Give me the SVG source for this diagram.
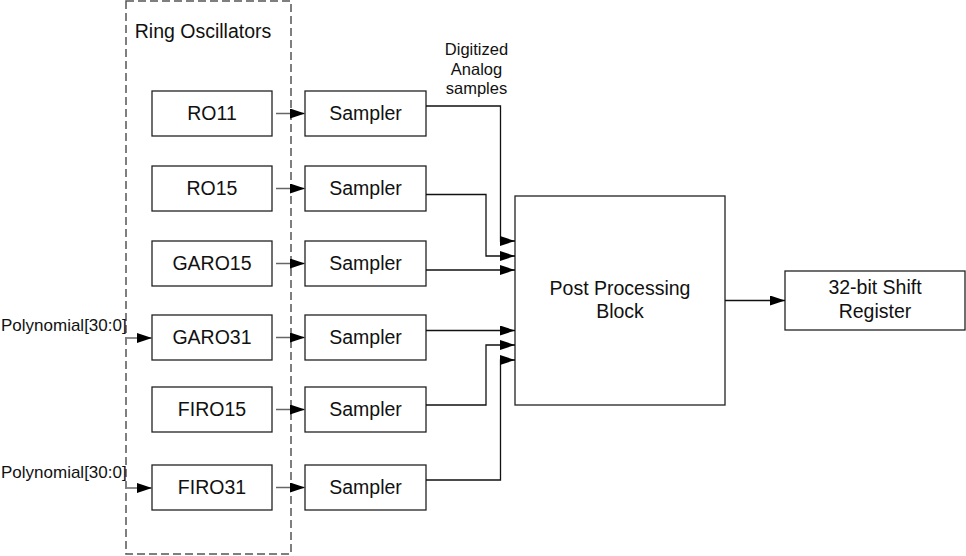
<svg xmlns="http://www.w3.org/2000/svg" width="966" height="556" viewBox="0 0 966 556">
<style>
.box{fill:#fff;stroke:#222;stroke-width:1.3}
.t{font-family:"Liberation Sans",Arial,sans-serif;font-size:19.5px;fill:#111;text-anchor:middle}
.s{font-family:"Liberation Sans",Arial,sans-serif;font-size:16.5px;fill:#111}
.c{fill:none;stroke:#111;stroke-width:1.3}
.g{fill:none;stroke:#666;stroke-width:1.5}
</style>
<defs>
<marker id="ah" markerUnits="userSpaceOnUse" markerWidth="16" markerHeight="10" refX="15" refY="5" orient="auto">
<path d="M0,0 L15,5 L0,10 Z" fill="#000"/>
</marker>
</defs>
<g id="ring-oscillators">
<rect x="126" y="1" width="165" height="553" fill="none" stroke="#555" stroke-width="1.5" stroke-dasharray="8,4"/>
<text class="t" x="203" y="38">Ring Oscillators</text>
</g>
<g id="ro11"><rect class="box" x="152" y="91" width="120" height="45"/><text class="t" x="212" y="120">RO11</text></g>
<g id="ro15"><rect class="box" x="152" y="166" width="120" height="45"/><text class="t" x="212" y="195">RO15</text></g>
<g id="garo15"><rect class="box" x="152" y="241" width="120" height="45"/><text class="t" x="212" y="270">GARO15</text></g>
<g id="garo31"><rect class="box" x="152" y="315" width="120" height="45"/><text class="t" x="212" y="344">GARO31</text></g>
<g id="firo15"><rect class="box" x="152" y="387" width="120" height="45"/><text class="t" x="212" y="416">FIRO15</text></g>
<g id="firo31"><rect class="box" x="152" y="465" width="120" height="45"/><text class="t" x="212" y="494">FIRO31</text></g>
<g id="sampler1"><rect class="box" x="305" y="91" width="121" height="45"/><text class="t" x="365.5" y="120">Sampler</text></g>
<g id="sampler2"><rect class="box" x="305" y="166" width="121" height="45"/><text class="t" x="365.5" y="195">Sampler</text></g>
<g id="sampler3"><rect class="box" x="305" y="241" width="121" height="45"/><text class="t" x="365.5" y="270">Sampler</text></g>
<g id="sampler4"><rect class="box" x="305" y="315" width="121" height="45"/><text class="t" x="365.5" y="344">Sampler</text></g>
<g id="sampler5"><rect class="box" x="305" y="387" width="121" height="45"/><text class="t" x="365.5" y="416">Sampler</text></g>
<g id="sampler6"><rect class="box" x="305" y="465" width="121" height="45"/><text class="t" x="365.5" y="494">Sampler</text></g>
<g id="post-processing"><rect class="box" x="515" y="196" width="210" height="209"/><text class="t" x="620" y="295">Post Processing</text><text class="t" x="620" y="318">Block</text></g>
<g id="shift-register"><rect class="box" x="785" y="271" width="180" height="59"/><text class="t" x="875" y="294">32-bit Shift</text><text class="t" x="875" y="318">Register</text></g>
<g id="labels">
<text class="s" x="476.5" y="55" text-anchor="middle">Digitized</text>
<text class="s" x="476.5" y="75" text-anchor="middle">Analog</text>
<text class="s" x="476.5" y="94" text-anchor="middle">samples</text>
<text class="s" x="1" y="331" style="font-size:17px">Polynomial[30:0]</text>
<text class="s" x="1" y="478" style="font-size:17px">Polynomial[30:0]</text>
</g>
<g id="connectors">
<path class="g" d="M276,113.5 H305" marker-end="url(#ah)"/>
<path class="g" d="M276,188.5 H305" marker-end="url(#ah)"/>
<path class="g" d="M276,263.5 H305" marker-end="url(#ah)"/>
<path class="g" d="M276,337.5 H305" marker-end="url(#ah)"/>
<path class="g" d="M276,409.5 H305" marker-end="url(#ah)"/>
<path class="g" d="M276,487.5 H305" marker-end="url(#ah)"/>
<path class="g" d="M127,338 H152" marker-end="url(#ah)"/>
<path class="g" d="M127,488 H152" marker-end="url(#ah)"/>
<path class="c" d="M426,106 H500.5 V241 H515" marker-end="url(#ah)"/>
<path class="c" d="M426,194.5 H486 V256 H515" marker-end="url(#ah)"/>
<path class="c" d="M426,270 H515" marker-end="url(#ah)"/>
<path class="c" d="M426,330.5 H515" marker-end="url(#ah)"/>
<path class="c" d="M426,405 H486 V345 H515" marker-end="url(#ah)"/>
<path class="c" d="M426,480 H500.5 V360 H515" marker-end="url(#ah)"/>
<path class="c" d="M725,300.5 H785" marker-end="url(#ah)"/>
</g>
</svg>
